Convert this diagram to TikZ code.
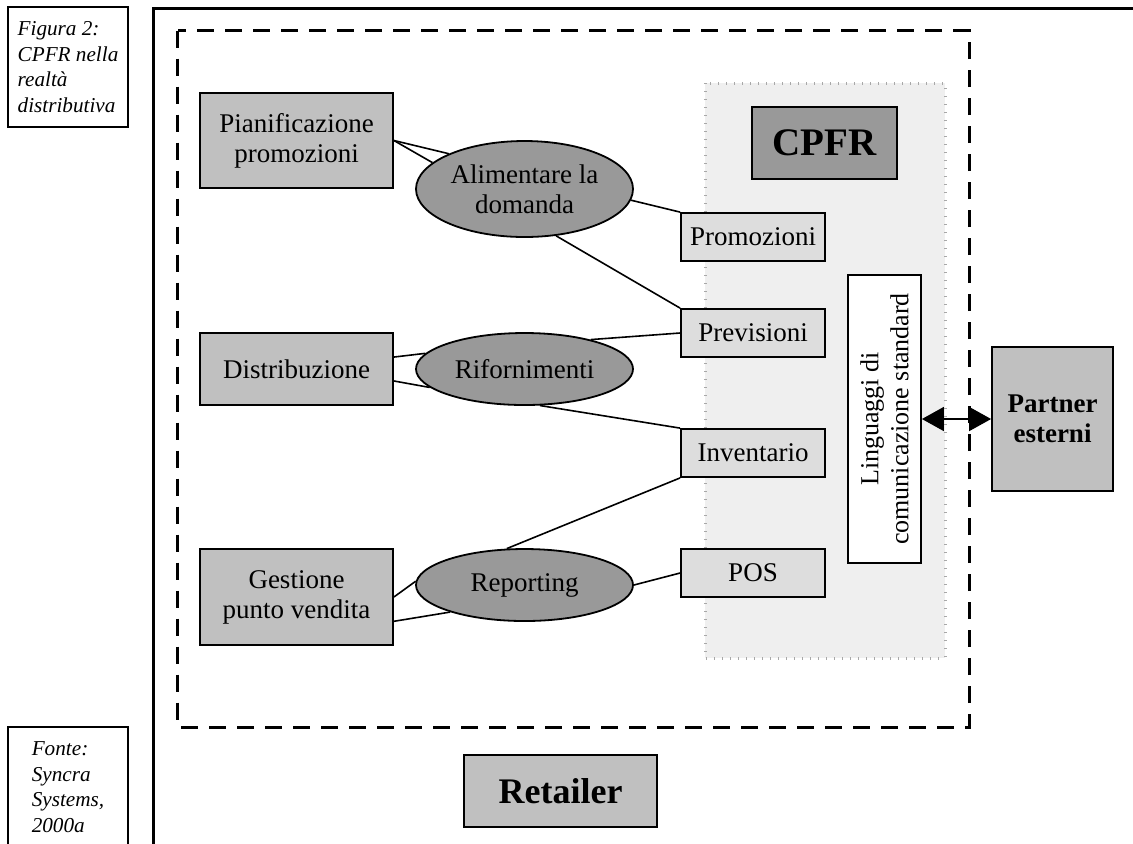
\documentclass[tikz,border=0pt]{standalone}
\usepackage{fontspec}
\setmainfont{Liberation Serif}
\usetikzlibrary{shapes.geometric,arrows.meta}
\definecolor{boxfill}{HTML}{C0C0C0}
\definecolor{ovalfill}{HTML}{999999}
\definecolor{itemfill}{HTML}{DDDDDD}
\definecolor{zonefill}{HTML}{EFEFEF}
\definecolor{tickgray}{HTML}{A8A8A8}

\begin{document}
\begin{tikzpicture}[
            x=0.5pt, y=-0.5pt,
            caption/.style={
                rectangle,
                draw=black,
                line width=0.6pt,
                minimum width=60pt,
                minimum height=60pt,
                inner sep=2pt,
                align=left,
                font=\fontsize{10.6}{12.8}\selectfont\itshape
            },
            unit/.style={
                rectangle,
                draw=black,
                line width=0.9pt,
                fill=boxfill,
                minimum width=96.5pt,
                align=center,
                font=\fontsize{13.5}{15}\selectfont
            },
            activity/.style={
                ellipse,
                draw=black,
                line width=0.9pt,
                fill=ovalfill,
                minimum width=108.5pt,
                inner sep=0pt,
                align=center,
                font=\fontsize{13.5}{15}\selectfont
            },
            item/.style={
                rectangle,
                draw=black,
                line width=0.9pt,
                fill=itemfill,
                minimum width=72pt,
                minimum height=24pt,
                font=\fontsize{13.5}{15}\selectfont
            },
            zone/.style={
                fill=zonefill,
                draw=tickgray,
                line width=1.5pt,
                dash pattern=on 0.5pt off 3.5pt
            },
            link/.style={line width=0.8pt},
            biarrow/.style={{Triangle[length=11pt,width=12pt]}-{Triangle[length=11pt,width=12pt]}, line width=0.8pt}
        ]
        \useasboundingbox (0,0) rectangle (1133,843);
        \clip (0,0) rectangle (1133,843);

        % Captions
        \node[caption] (fig) at (68,67) {Figura 2:\\CPFR nella\\realtà\\distributiva};
        \node[caption] (src) at (68,787) {Fonte:\\Syncra\\Systems,\\2000a};

        % Frame and retailer boundary
        \draw[line width=1.5pt] (153.5,850) |- (1140,8);
        \draw[zone] (705,83) rectangle (945,658);
        \draw[line width=1.5pt, dash pattern=on 8.5pt off 5.5pt] (177.5,30.5) rectangle (969,727);

        % CPFR block
        \node[rectangle, draw=black, line width=0.9pt, fill=ovalfill, minimum width=72.5pt, minimum height=36pt,
              font=\fontsize{19.5}{22}\selectfont\bfseries] (cpfr) at (824.5,143) {CPFR};
        \node[item] (promo) at (753,237) {Promozioni};
        \node[item] (fcst) at (753,333) {Previsioni};
        \node[item] (inv) at (753,453) {Inventario};
        \node[item] (pos) at (753,573) {POS};
        \node[rectangle, draw=black, line width=0.9pt, fill=white, rotate=90, minimum width=144pt, minimum height=36.5pt,
              align=center, font=\fontsize{13}{15}\selectfont] (ling) at (884.5,419) {Linguaggi di\\comunicazione standard};

        % Retailer functions
        \node[unit, minimum height=47.5pt] (plan) at (296.5,140.5) {Pianificazione\\promozioni};
        \node[unit, minimum height=36pt] (dist) at (296.5,369) {Distribuzione};
        \node[unit, minimum height=48pt] (store) at (296.5,597) {Gestione\\punto vendita};

        % Processes
        \node[activity, minimum height=48pt] (feed) at (524.5,189) {Alimentare la\\domanda};
        \node[activity, minimum height=36pt] (refill) at (524.5,369) {Rifornimenti};
        \node[activity, minimum height=36pt] (report) at (524.5,585) {Reporting};

        % Outside actors
        \node[unit, minimum width=60.5pt, minimum height=72pt, font=\fontsize{13.5}{15}\selectfont\bfseries] (partner) at (1052.5,419) {Partner\\esterni};
        \node[unit, minimum height=36pt, font=\fontsize{18}{21}\selectfont\bfseries] (retailer) at (560.5,791) {Retailer};

        % Connectors
        \draw[link] (plan.east) -- (feed.155);
        \draw[link] (plan.east) -- (feed.164);
        \draw[link] (feed.-6) -- (promo.north west);
        \draw[link] (feed.-56) -- (fcst.north west);
        \draw[link] (dist.7) -- (refill.171);
        \draw[link] (dist.-7) -- (refill.191);
        \draw[link] (refill.24) -- (fcst.west);
        \draw[link] (refill.293) -- (inv.north west);
        \draw[link] (report.116) -- (inv.south west);
        \draw[link] (store.east) -- (report.178);
        \draw[link] (store.-14) -- (report.200);
        \draw[link] (report.east) -- (pos.west);
        \draw[biarrow] (ling.south) -- (partner.west);

        \end{tikzpicture}
\end{document}
